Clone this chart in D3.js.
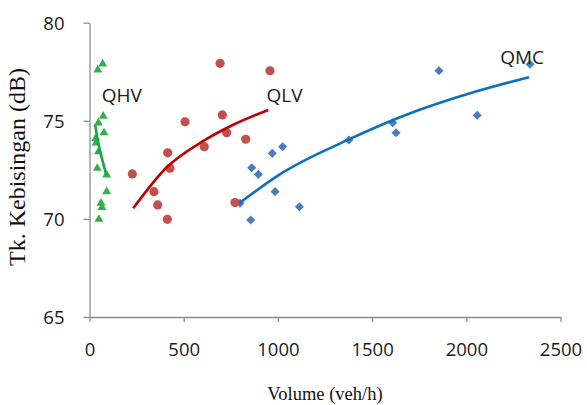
<!DOCTYPE html>
<html><head><meta charset="utf-8">
<script src="https://cdn.jsdelivr.net/npm/d3@7"></script>
<style>body{margin:0;background:#fff}svg{display:block}</style>
</head><body>
<script>
// ---- data ----
const qhvVolume = [44, 70, 73, 47, 77, 33, 35, 48, 41, 91, 91, 61, 66, 50];
const qhvNoise  = [77.59, 77.90, 75.24, 74.89, 74.39, 74.10, 73.87, 73.43, 72.58, 72.24, 71.39, 70.80, 70.59, 69.98];
const qlvVolume = [693, 958, 507, 705, 728, 829, 609, 415, 427, 227, 342, 362, 413, 772];
const qlvNoise  = [77.93, 77.55, 74.95, 75.30, 74.39, 74.06, 73.68, 73.37, 72.58, 72.29, 71.39, 70.71, 69.98, 70.83];
const qmcVolume = [861, 896, 970, 1025, 985, 799, 856, 1114, 1377, 1609, 1627, 1855, 2058, 2338];
const qmcNoise  = [72.61, 72.27, 73.34, 73.68, 71.39, 70.80, 69.94, 70.62, 74.02, 74.90, 74.39, 77.55, 75.28, 77.88];
// trend lines (logarithmic)
const qhvTrendVolume = [30, 45, 60, 75, 90];
const qhvTrendNoise  = [74.80, 73.95, 73.30, 72.75, 72.20];
const qlvTrendVolume = [232, 410, 609, 763, 949];
const qlvTrendNoise  = [70.54, 72.63, 74.00, 74.80, 75.55];
const qmcTrendVolume = [795, 1029, 1377, 1648, 2055, 2333];
const qmcTrendNoise  = [70.80, 72.38, 74.05, 75.18, 76.50, 77.22];
const seriesNames = ["QHV", "QLV", "QMC"];
const labelVolume = [65, 940, 2180];
const labelNoise  = [75.97, 75.97, 77.87];
const xTicks = [0, 500, 1000, 1500, 2000, 2500];
const yTicks = [65, 70, 75, 80];
const xTitle = "Volume (veh/h)";
const yTitle = "Tk. Kebisingan (dB)";

// ---- drawing ----
const W = 587, H = 405;
const svg = d3.select("body").append("svg").attr("width", W).attr("height", H);
const x = d3.scaleLinear().domain([0, 2500]).range([89.5, 560.5]);
const y = d3.scaleLinear().domain([65, 80]).range([317, 22.7]);
const axisColor = "#8c8c8c";
const tickFont = "'Open Sans', sans-serif";

const xa = svg.append("g").attr("transform", `translate(0,${y(65)})`)
  .call(d3.axisBottom(x).tickValues(xTicks).tickSize(5).tickSizeOuter(0).tickFormat(d3.format("d")));
const ya = svg.append("g").attr("transform", `translate(${x(0)},0)`)
  .call(d3.axisLeft(y).tickValues(yTicks).tickSize(6).tickSizeOuter(0).tickFormat(d3.format("d")));
[xa, ya].forEach(g => {
  g.select(".domain").attr("stroke", axisColor).attr("stroke-width", 1.3);
  g.selectAll(".tick line").attr("stroke", axisColor).attr("stroke-width", 1.3);
  g.selectAll(".tick text").attr("fill", "#1a1a1a").style("font-family", tickFont).style("font-size", "18.5px");
});
xa.selectAll(".tick text").attr("y", 26).attr("dy", "0.71em");
ya.selectAll(".tick text").attr("x", -25).attr("dy", "0.35em");

const line = d3.line().x(d => x(d[0])).y(d => y(d[1])).curve(d3.curveMonotoneX);
function trend(vs, ns, color) {
  svg.append("path").datum(vs.map((v, i) => [v, ns[i]]))
    .attr("d", line).attr("fill", "none").attr("stroke", color).attr("stroke-width", 2.6);
}

// markers
const qhvPts = qhvVolume.map((v, i) => [v, qhvNoise[i]]);
const qlvPts = qlvVolume.map((v, i) => [v, qlvNoise[i]]);
const qmcPts = qmcVolume.map((v, i) => [v, qmcNoise[i]]);

svg.append("g").selectAll("path").data(qmcPts).join("path")
  .attr("d", d3.symbol(d3.symbolDiamond2, 52))
  .attr("transform", d => `translate(${x(d[0])},${y(d[1])})`)
  .attr("fill", "#4a7cc0");
svg.append("g").selectAll("circle").data(qlvPts).join("circle")
  .attr("cx", d => x(d[0])).attr("cy", d => y(d[1])).attr("r", 4.6)
  .attr("fill", "#c4504e");
svg.append("g").selectAll("path").data(qhvPts).join("path")
  .attr("d", d3.symbol(d3.symbolTriangle, 34))
  .attr("transform", d => `translate(${x(d[0])},${y(d[1])})`)
  .attr("fill", "#2fb14a");

trend(qhvTrendVolume, qhvTrendNoise, "#1aaa44");
trend(qlvTrendVolume, qlvTrendNoise, "#c00000");
trend(qmcTrendVolume, qmcTrendNoise, "#0a70c0");

// series labels
svg.append("g").selectAll("text").data(seriesNames).join("text")
  .attr("x", (d, i) => x(labelVolume[i])).attr("y", (d, i) => y(labelNoise[i]))
  .attr("fill", "#1a1a1a").style("font-family", tickFont).style("font-size", "19px")
  .text(d => d);

// titles
svg.append("text").attr("x", (x(0) + x(2500)) / 2).attr("y", 400).attr("text-anchor", "middle")
  .style("font-family", "'Liberation Serif', serif").style("font-size", "18.5px").attr("fill", "#111")
  .text(xTitle);
svg.append("text").attr("transform", `translate(25,167) rotate(-90)`).attr("text-anchor", "middle")
  .style("font-family", "'Liberation Serif', serif").style("font-size", "24px").attr("fill", "#111")
  .text(yTitle);
</script>
</body></html>
